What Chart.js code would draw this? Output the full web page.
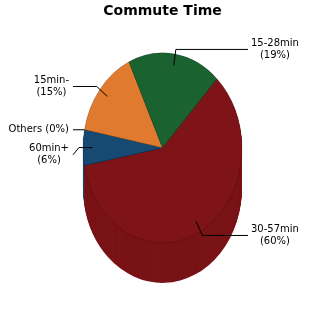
<!DOCTYPE html>
<html>
<head>
<meta charset="utf-8">
<script src="https://cdn.jsdelivr.net/npm/chart.js@4/dist/chart.umd.min.js"></script>
<style>
  body { margin: 0; background: #fff; }
  #wrap { width: 325px; height: 325px; }
</style>
</head>
<body>
<div id="wrap"><canvas id="pieChart" width="325" height="325"></canvas></div>
<script>
// data
const labels = ['15min-', '15-28min', '30-57min', '60min+', 'Others'];
const values = [15, 19, 60, 6, 0];
const colors = ['#e07a2e', '#1b6231', '#7e1417', '#164a72', '#8a8a8a'];

const depth = 40;        // height of the pie wall
const squash = 79.5 / 95; // horizontal stretch of the ellipse

function darker(hex, f){
    const n = parseInt(hex.slice(1), 16);
    const r = Math.round(((n >> 16) & 255) * f);
    const g = Math.round(((n >> 8) & 255) * f);
    const b = Math.round((n & 255) * f);
    return 'rgb(' + r + ',' + g + ',' + b + ')';
}

// draws the wall of the pie and squashes the circle into an ellipse
const pie3d = {
    id: 'pie3d',
    beforeDatasetsDraw(chart){
        const ctx = chart.ctx;
        const meta = chart.getDatasetMeta(0);
        const cx = meta.data[0].x, cy = meta.data[0].y;
        ctx.save();
        ctx.translate(cx, cy);
        ctx.scale(squash, 1);
        ctx.translate(-cx, -cy);
        for (let d = depth; d >= 1; d--){
            meta.data.forEach((arc, i) => {
                if (arc.endAngle - arc.startAngle <= 0) return;
                ctx.beginPath();
                ctx.moveTo(arc.x, arc.y + d);
                ctx.arc(arc.x, arc.y + d, arc.outerRadius, arc.startAngle, arc.endAngle);
                ctx.closePath();
                ctx.fillStyle = darker(colors[i], 0.96);
                ctx.fill();
            });
        }
    },
    afterDatasetsDraw(chart){
        chart.ctx.restore();
    }
};

// labels with elbow leader lines
const sideLabels = {
    id: 'sideLabels',
    afterDraw(chart){
        const ctx = chart.ctx;
        const meta = chart.getDatasetMeta(0);
        const total = values.reduce((a, b) => a + b, 0);
        let items = [];
        meta.data.forEach((arc, i) => {
            const mid = (arc.startAngle + arc.endAngle) / 2;
            const rx = arc.outerRadius * squash, ry = arc.outerRadius;
            const cos = Math.cos(mid), sin = Math.sin(mid);
            const pct = Math.round(values[i] / total * 100);
            const small = values[i] / total < 0.03;
            const lines = small ? [labels[i] + ' (' + pct + '%)'] : [labels[i], '(' + pct + '%)'];
            const f = small ? 1.0 : 0.88;
            const fe = small ? 1.0 : 1.05;
            items.push({
                ax: arc.x + cos * rx * f, ay: arc.y + sin * ry * f,
                ex: arc.x + cos * rx * fe, ey: arc.y + sin * ry * fe,
                right: cos >= 0,
                cx: arc.x, rx: rx,
                lines: lines,
                y: arc.y + sin * ry * fe
            });
        });
        // push overlapping labels apart on each side
        [true, false].forEach(side => {
            const list = items.filter(it => it.right === side).sort((a, b) => a.y - b.y);
            for (let k = 1; k < list.length; k++){
                const prev = list[k - 1], cur = list[k];
                const minY = prev.y + prev.lines.length * 6 + 7 + cur.lines.length * 6;
                if (cur.y < minY) cur.y = minY;
            }
        });
        ctx.save();
        ctx.font = '10px "DejaVu Sans"';
        ctx.fillStyle = '#000';
        ctx.strokeStyle = '#000';
        ctx.lineWidth = 1;
        ctx.textBaseline = 'middle';
        ctx.textAlign = 'center';
        items.forEach(it => {
            const xEnd = it.right ? it.cx + it.rx + 6 : it.cx - it.rx - 10;
            ctx.beginPath();
            ctx.moveTo(it.ax, it.ay);
            ctx.lineTo(it.ex, it.ey);
            ctx.lineTo(xEnd, it.y);
            ctx.stroke();
            const w = Math.max(...it.lines.map(l => ctx.measureText(l).width));
            const mx = it.right ? xEnd + 3 + w / 2 : xEnd - 4 - w / 2;
            const y0 = it.y - (it.lines.length - 1) * 6;
            it.lines.forEach((l, j) => ctx.fillText(l, mx, y0 + j * 12));
        });
        ctx.restore();
    }
};

const ctx1 = document.getElementById('pieChart');
new Chart(ctx1, {
    type: 'pie',
    data: {
        labels: labels,
        datasets: [{
            data: values,
            backgroundColor: colors,
            borderColor: 'rgba(0,0,0,0.18)',
            borderWidth: 1,
            radius: 95,
            rotation: -79,
            clip: false
        }]
    },
    options: {
        responsive: false,
        animation: false,
        devicePixelRatio: 1,
        layout: { padding: { top: 0, bottom: 78, left: 0, right: 0 } },
        plugins: {
            legend: { display: false },
            tooltip: { enabled: false },
            title: {
                display: true,
                text: 'Commute Time',
                color: '#000',
                font: { family: '"DejaVu Sans"', size: 14, weight: 'bold', lineHeight: 1.2 },
                padding: { top: 3, bottom: 29 }
            }
        }
    },
    plugins: [pie3d, sideLabels]
});
</script>
</body>
</html>
